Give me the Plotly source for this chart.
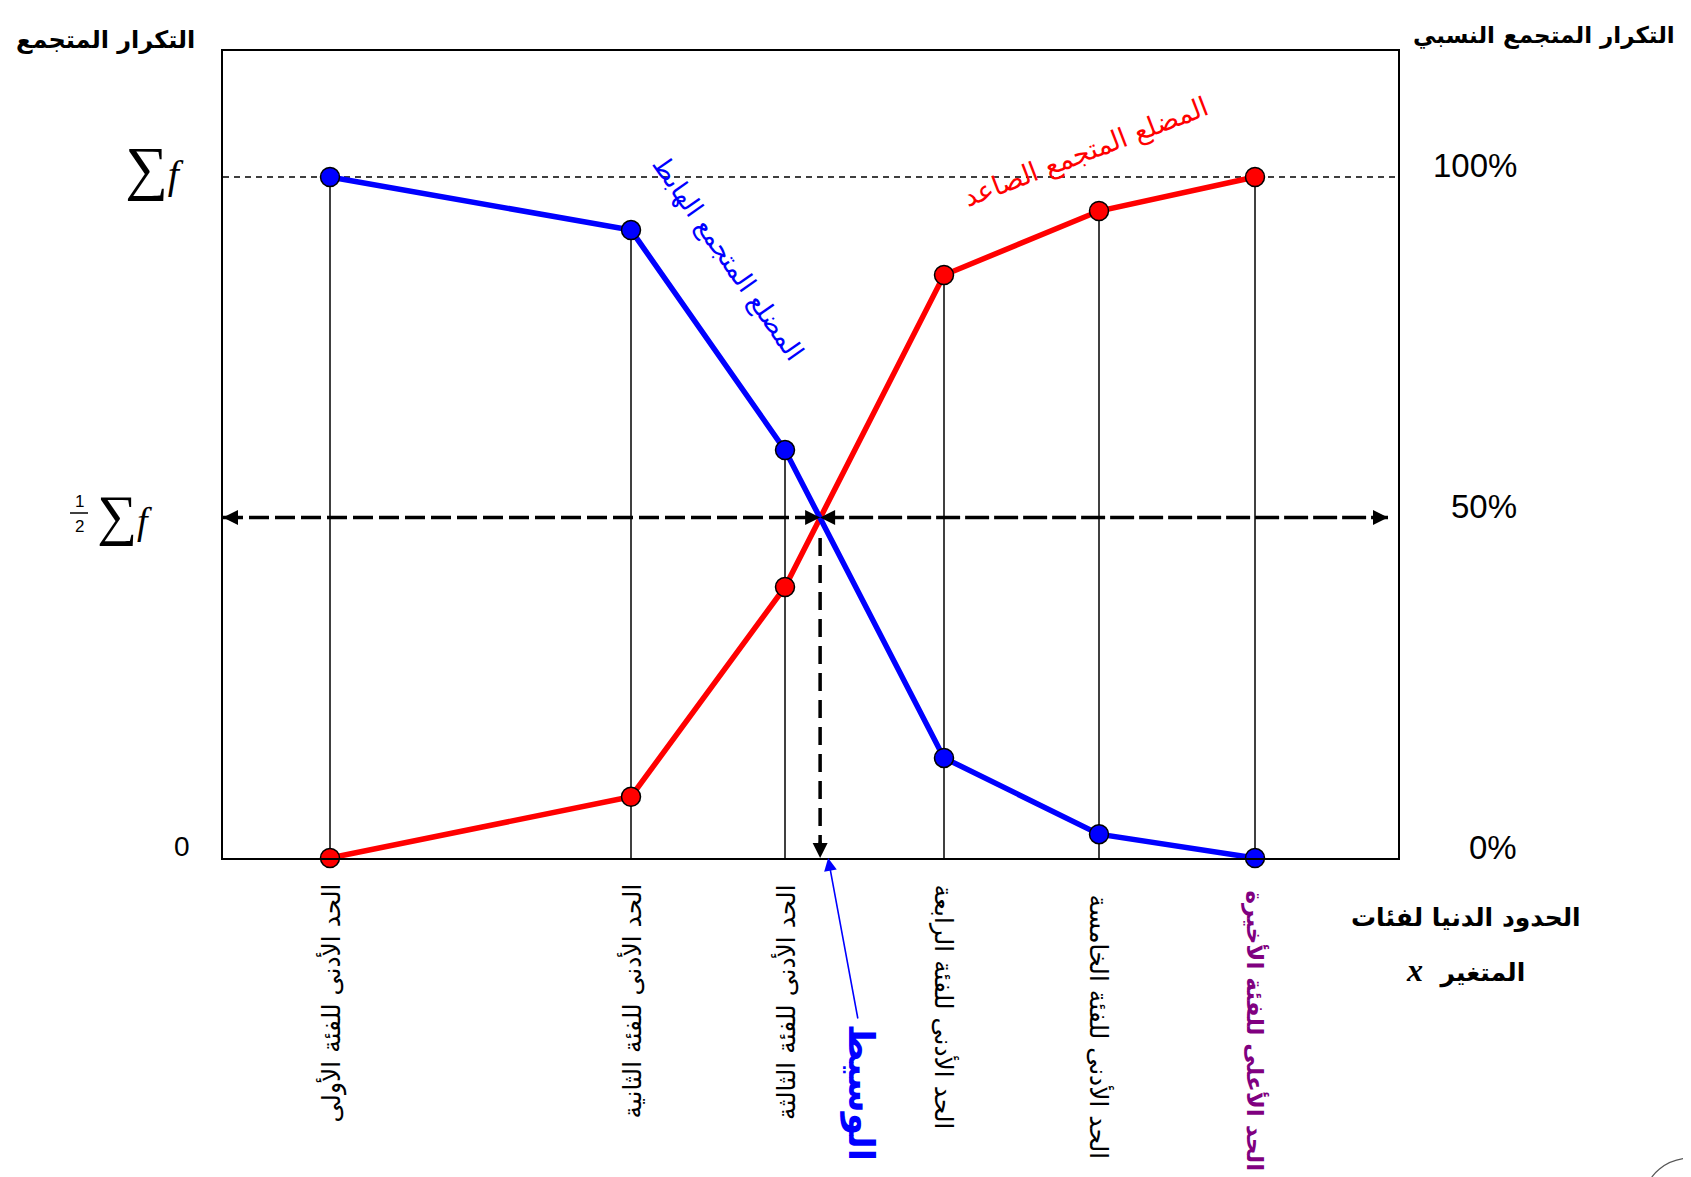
import plotly.graph_objects as go

# ---------------- data ----------------
class_bounds = [1.07, 4.08, 5.62, 7.21, 8.76, 10.32]          # positions of the class limits on x
bound_labels = [
    "الحد الأدنى للفئة الأولى",
    "الحد الأدنى للفئة الثانية",
    "الحد الأدنى للفئة الثالثة",
    "الحد الأدنى للفئة الرابعة",
    "الحد الأدنى للفئة الخامسة",
    "الحد الأعلى للفئة الأخيرة",
]
ascending = [0, 9.0, 39.8, 85.6, 95.0, 100]        # cumulative (ascending) polygon, % of Σf
descending = [100, 92.2, 59.9, 14.7, 3.5, 0]       # cumulative (descending) polygon, % of Σf
tick_vals = [0, 50, 100]
right_tick_text = ["0%", "50%", "100%"]
x_range = [0, 11.75]
y_range = [0, 118.5]
arrow_right_end = 11.65

# ---------------- median (intersection of both polygons) ----------------
median_x, median_y = None, None
for i in range(len(class_bounds) - 1):
    d0 = ascending[i] - descending[i]
    d1 = ascending[i + 1] - descending[i + 1]
    if d0 <= 0 <= d1:
        t = -d0 / (d1 - d0)
        median_x = class_bounds[i] + t * (class_bounds[i + 1] - class_bounds[i])
        median_y = ascending[i] + t * (ascending[i + 1] - ascending[i])
        break

# pixel helpers for text placement (figure 1691x1177, plot area 215..1390 x 43..850)
L, R, T, B = 215, 1390, 43, 850
def px(x):
    return (x - L) / (R - L)
def py(y):
    return (B - y) / (B - T)

fig = go.Figure()

# thin vertical drop lines
vx, vy = [], []
for xb, a, d in zip(class_bounds, ascending, descending):
    vx += [xb, xb, None]
    vy += [0, max(a, d), None]
fig.add_trace(go.Scatter(x=vx, y=vy, mode="lines", line=dict(color="black", width=1.5),
                         hoverinfo="skip", showlegend=False))

# ascending polygon (red)
fig.add_trace(go.Scatter(x=class_bounds, y=ascending, mode="lines+markers",
                         line=dict(color="#FF0000", width=5.5),
                         marker=dict(size=19, color="#FF0000", line=dict(color="black", width=1.5)),
                         cliponaxis=False, showlegend=False))
# descending polygon (blue)
fig.add_trace(go.Scatter(x=class_bounds, y=descending, mode="lines+markers",
                         line=dict(color="#0000FF", width=5.5),
                         marker=dict(size=19, color="#0000FF", line=dict(color="black", width=1.5)),
                         cliponaxis=False, showlegend=False))

shapes = [
    # Σf dashed reference line
    dict(type="line", xref="paper", yref="y", x0=0, x1=1, y0=tick_vals[2], y1=tick_vals[2],
         line=dict(color="black", width=1.5, dash="6px,5px"), layer="below"),
    # 1/2 Σf dashed lines
    dict(type="line", xref="x", yref="y", x0=x_range[0], x1=median_x, y0=tick_vals[1], y1=tick_vals[1],
         line=dict(color="black", width=3.5, dash="20px,6px"), layer="below"),
    dict(type="line", xref="x", yref="y", x0=median_x, x1=arrow_right_end, y0=tick_vals[1], y1=tick_vals[1],
         line=dict(color="black", width=3.5, dash="24px,5px"), layer="below"),
    # median dashed vertical
    dict(type="line", xref="x", yref="y", x0=median_x, x1=median_x, y0=tick_vals[1] - 3, y1=0,
         line=dict(color="black", width=3.5, dash="18px,9px"), layer="below"),
    # fraction bar for 1/2
    dict(type="line", xref="paper", yref="paper", x0=px(62), x1=px(80), y0=py(505), y1=py(505),
         line=dict(color="black", width=1.5)),
    # stamp at the corner
    dict(type="circle", xref="paper", yref="paper", x0=px(1638), x1=px(1730), y0=py(1225), y1=py(1150),
         line=dict(color="#555555", width=1.2)),
]

ann = []
def arrow(x, y, ax, ay, color="black", width=3, size=1.0, head=2, xshift=0):
    ann.append(dict(x=x, y=y, xref="x", yref="y", text="", showarrow=True, ax=ax, ay=ay,
                    arrowhead=head, arrowsize=size, arrowwidth=width, arrowcolor=color,
                    standoff=0, xshift=xshift))

arrow(median_x, tick_vals[1], -18, 0)
arrow(median_x, tick_vals[1], 18, 0)
arrow(x_range[0], tick_vals[1], 18, 0)
arrow(arrow_right_end, tick_vals[1], -18, 0)
arrow(median_x, 0, 0, -18)
# blue arrow from the "median" label
arrow(median_x, 0, 30, 162, color="#0000FF", width=1.6, size=1.6, head=2, xshift=8)

def text(x, y, s, size, color="black", family="DejaVu Sans", angle=0, xanchor="center",
         yanchor="middle", xref="paper", yref="paper", yshift=0, weight="normal"):
    ann.append(dict(x=x, y=y, xref=xref, yref=yref, text=s, showarrow=False, textangle=angle,
                    xanchor=xanchor, yanchor=yanchor, yshift=yshift,
                    font=dict(family=family, size=size, color=color, weight=weight)))

AR = "DejaVu Sans"
# x labels under the axis
for i, (xb, lab) in enumerate(zip(class_bounds, bound_labels)):
    last = i == len(class_bounds) - 1
    text(xb, py(874 if i < 4 else (880 if last else 884)), lab, 23 if last else 25,
         color="#800080" if last else "black", angle=-90 if i < 3 else 90,
         yanchor="top", xref="x", weight="bold" if last else "normal")

# median label
text(px(853), py(1084), "<b>الوسيط</b>", 36, color="#0000FF", angle=90)

# left-side labels
text(px(174), 0, "0", 28, family="Liberation Sans", yref="y", yshift=12)
text(px(146), tick_vals[2], "<span style='font-size:60px'>∑</span><i>f</i>", 40,
     family="Liberation Serif", yref="y", yshift=9)
text(px(116), tick_vals[1], "<span style='font-size:56px'>∑</span><i>f</i>", 38,
     family="Liberation Serif", yref="y", yshift=2)
text(px(71), py(493), "1", 17, family="Liberation Sans")
text(px(71), py(518), "2", 17, family="Liberation Sans")

# right-side percentage labels
for v, t in zip(tick_vals, right_tick_text):
    text(px(1511), v, t, 33, family="Liberation Sans", xanchor="right", yref="y", yshift=11)

# titles
text(px(97), py(32), "<b>التكرار المتجمع</b>", 24)
text(px(1536), py(27), "<b>التكرار المتجمع النسبي</b>", 23)
text(px(1458), py(910), "<b>الحدود الدنيا لفئات</b>", 25)
text(px(1457), py(962),
     "<b><i><span style='font-family:Liberation Serif;font-size:32px'>x</span></i>  المتغير</b>", 25)

# polygon names
text(px(1078), py(144), "المضلع المتجمع الصاعد", 27, color="#FF0000", angle=-21)
text(px(720), py(250), "المضلع المتجمع الهابط", 26, color="#0000FF", angle=55)

fig.update_layout(
    width=1691, height=1177, autosize=False,
    margin=dict(l=L, r=1691 - R, t=T, b=1177 - B, pad=0),
    paper_bgcolor="white", plot_bgcolor="white",
    shapes=shapes, annotations=ann, showlegend=False,
    xaxis=dict(range=x_range, showgrid=False, zeroline=False, showticklabels=False, ticks="",
               showline=True, mirror=True, linecolor="black", linewidth=2, fixedrange=True),
    yaxis=dict(range=y_range, showgrid=False, zeroline=False, showticklabels=False, ticks="",
               showline=True, mirror=True, linecolor="black", linewidth=2, fixedrange=True),
)

fig.write_html("out.html")
